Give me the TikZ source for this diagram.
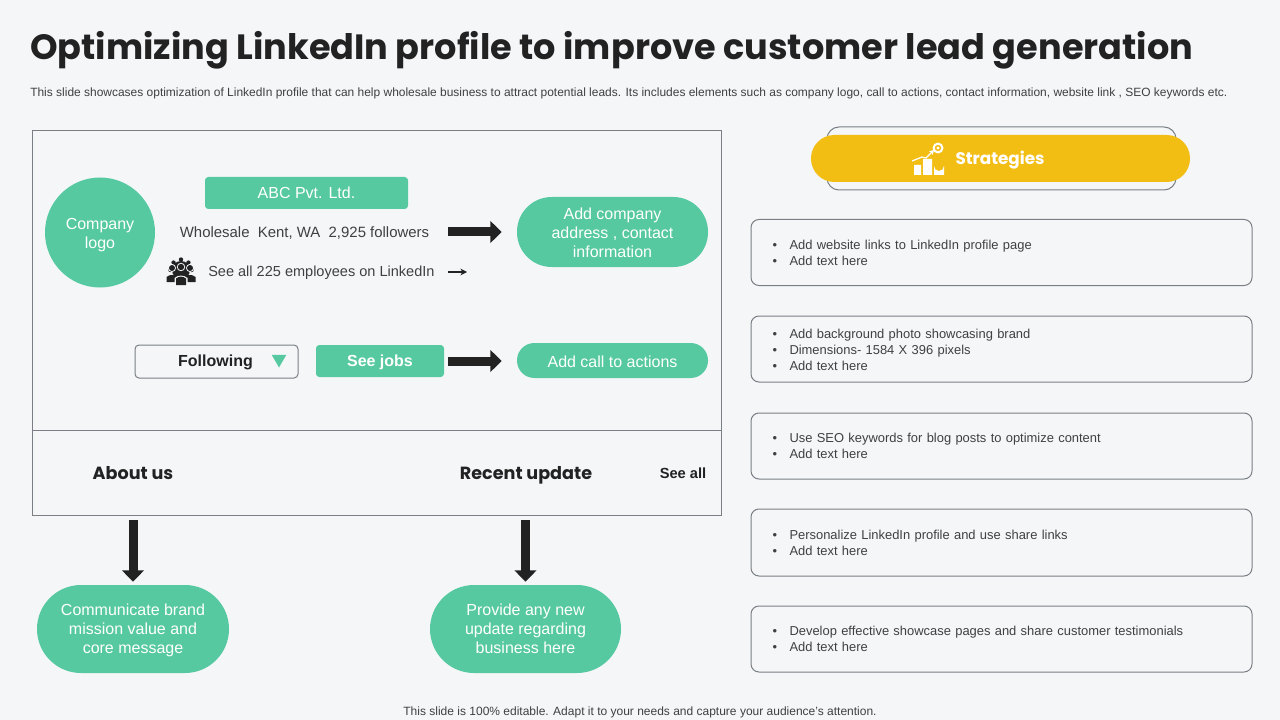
\documentclass[tikz,border=0pt]{standalone}
\usepackage{fontspec}
\setmainfont{Liberation Sans}
\newfontfamily\titlefont{Poppins}
\usetikzlibrary{arrows.meta,calc,positioning,shapes.geometric}
\definecolor{pagebg}{HTML}{F4F6F8}
\definecolor{mint}{HTML}{56C9A1}
\definecolor{sun}{HTML}{F3BE14}
\definecolor{ink}{HTML}{222222}
\definecolor{bodytext}{HTML}{404040}
\definecolor{edge}{HTML}{7A7F85}
\newcommand{\px}{0.75pt}
\newcommand{\bul}{\makebox[17\dimexpr0.75pt\relax][l]{\textbullet}}
\newcommand{\lift}[1]{\rule{0pt}{#1pt}}
\tikzstyle{panel} = [rectangle, draw=edge, line width=0.75pt, inner sep=0pt]
\tikzstyle{pill} = [rectangle, fill=mint, text=white, align=center, inner sep=0pt, font=\fontsize{12}{14.2}\selectfont]
\tikzstyle{label} = [inner sep=0pt, text=bodytext, font=\fontsize{11}{14}\selectfont]
\tikzstyle{heading} = [anchor=base, inner sep=0pt, text=ink, font=\titlefont\fontsize{13.2}{16}\selectfont\bfseries]
\tikzstyle{strategy} = [panel, rounded corners=6pt, minimum width=501*\px, minimum height=66*\px, text width=458*\px, align=left, text=bodytext, font=\fontsize{9.7}{12}\selectfont]
\tikzstyle{bigarrow} = [draw=ink, line width=9*\px, -{Triangle[length=8.5pt,width=16pt]}]
\begin{document}
\begin{tikzpicture}[x=0.75pt,y=-0.75pt]
        \fill[pagebg] (0,0) rectangle (1280,720);
        \useasboundingbox (0,0) rectangle (1280,720);
        \node[anchor=base west,inner sep=0pt,text=ink] (title) at (30,60) {\titlefont\fontsize{26.33}{30}\selectfont\bfseries Optimizing LinkedIn profile to improve customer lead generation};
        \node[anchor=west,inner sep=0pt,text=bodytext] (subtitle) at (30,93.5) {\fontsize{8.98}{11}\selectfont This slide showcases optimization of LinkedIn profile that can help wholesale business to attract potential leads. Its includes elements such as company logo, call to actions, contact information, website link , SEO keywords etc.};
        \node[panel,minimum width=689.5*\px,minimum height=299.5*\px] (profile) at (376.75,280.75) {};
        \node[panel,minimum width=689.5*\px,minimum height=85*\px] (footer) at (376.75,473) {};
        \node[pill,circle,minimum size=110*\px] (logo) at (100,232.5) {\lift{11.7}Company\\logo};
        \node[pill,rounded corners=2.5pt,minimum width=203*\px,minimum height=32*\px] (company) at (306.5,193) {ABC Pvt. Ltd.};
        \node[label,font=\fontsize{11.2}{14}\selectfont] (followers) at (304.5,233) {Wholesale\ \ Kent, WA\ \ 2,925 followers};
        \node[label,anchor=west,font=\fontsize{10.9}{14}\selectfont] (employees) at (208,273) {See all 225 employees on LinkedIn};
        \coordinate (employees-end) at (467,272);
        \coordinate (followers-end) at (429,232);
        \node[pill,rounded corners=26pt,minimum width=191*\px,minimum height=70*\px] (address) at (612.5,232) {\lift{9.4}Add company\\address , contact\\information};
        \node[panel,rounded corners=3pt,minimum width=163*\px,minimum height=33*\px] (following) at (216.5,361.5) {};
        \node[inner sep=0pt,text=ink,font=\fontsize{12}{14}\selectfont\bfseries] (following-text) at (215.5,362) {Following};
        \node[regular polygon,regular polygon sides=3,shape border rotate=180,fill=mint,inner sep=0pt,minimum size=17*\px] (following-mark) at (279,359) {};
        \node[pill,rounded corners=2.5pt,minimum width=128*\px,minimum height=32*\px,font=\fontsize{12}{14}\selectfont\bfseries] (jobs) at (380,361) {\lift{10.2}See jobs};
        \node[pill,rounded corners=13pt,minimum width=191*\px,minimum height=35*\px] (actions) at (612.5,360.5) {\lift{10.2}Add call to actions};
        \node[heading] (about) at (133,479) {About us};
        \node[heading] (recent) at (526,479) {Recent update};
        \node[inner sep=0pt,text=ink,font=\fontsize{11}{13}\selectfont\bfseries] (seeall) at (683,473) {See all};
        \coordinate (about-start) at (133,520);
        \coordinate (recent-start) at (525.5,520);
        \node[pill,rounded corners=33pt,minimum width=192*\px,minimum height=88*\px] (mission) at (133,629) {\lift{10.2}Communicate brand\\mission value  and\\core message};
        \node[pill,rounded corners=33pt,minimum width=191*\px,minimum height=88*\px] (update) at (525.5,629) {Provide any new\\update regarding\\business here};
        \draw[bigarrow,shorten <=19*\px,shorten >=15*\px] (followers-end) -- (followers-end -| address.west);
        \draw[bigarrow,shorten <=4*\px,shorten >=15*\px] (jobs.east) -- (actions.west |- jobs.east);
        \draw[-{Stealth[length=5pt,width=5pt]},draw=ink,line width=0.8pt,shorten <=13*\px] (employees.east |- employees-end) -- (employees-end);
        \draw[bigarrow,shorten >=3*\px] (about-start) -- (mission.north);
        \draw[bigarrow,shorten >=3*\px] (recent-start) -- (update.north);
        % people icon
        \fill[ink] (181,270) circle (9);
        \foreach \a in {0,45,...,315} \fill[ink] ($(181,270)+(\a:10.5)$) circle (2.2);
        \foreach \x/\y in {172/268,190/268} {
            \fill[pagebg] (\x,\y) circle (4);
            \fill[ink] (\x,\y) circle (3);
            \fill[ink] (\x-5.5,282) -- (\x-5.5,277) to[bend left=40] (\x+5.5,277) -- (\x+5.5,282) -- cycle;
        }
        \fill[pagebg] (181,267) circle (4.2);
        \fill[ink] (181,267) circle (3.2);
        \fill[pagebg] (174.5,286) -- (174.5,278) to[bend left=40] (187.5,278) -- (187.5,286) -- cycle;
        \fill[ink] (176,285) -- (176,278.5) to[bend left=40] (186,278.5) -- (186,285) -- cycle;
        % strategies header
        \node[panel,rounded corners=9pt,minimum width=349*\px,minimum height=63*\px,fill=pagebg] (header-back) at (1001.5,158.5) {};
        \node[rectangle,fill=sun,rounded corners=17.5pt,minimum width=379*\px,minimum height=47*\px,inner sep=0pt] (header) at (1000.5,158.5) {};
        \node[anchor=base,inner sep=0pt,text=white,font=\titlefont\fontsize{12.6}{16}\selectfont\bfseries] (header-text) at (1000,164.5) {Strategies};
        % chart icon
        \fill[white] (914,165) rectangle (921,175) (923,159) rectangle (932,175);
        \fill[white] (934,175) -- (934,166) arc[start angle=180,end angle=0,radius=5] -- (944,175) -- cycle;
        \draw[white,line width=0.9pt,-{Stealth[length=3.5pt,width=4pt]}] (912,161) -- (922,157) -- (926,158) -- (934,150);
        \fill[white] (938,148) circle (5.5);
        \fill[sun] (938,148) circle (3.2);
        \fill[white] (938,148) circle (1.7);
        \node[strategy] (tip-links) at (1001.5,252.5) {\bul Add website links to LinkedIn\ profile\ page\\ \bul Add text here};
        \node[strategy] (tip-photo) at (1001.5,349) {\lift{8.2}\bul Add background\ photo showcasing brand\\ \bul Dimensions-\ 1584 X 396 pixels\\ \bul Add text here};
        \node[strategy] (tip-seo) at (1001.5,446) {\bul Use SEO keywords for blog posts to optimize content\\ \bul Add text here};
        \node[strategy,minimum height=67*\px] (tip-share) at (1001.5,542.5) {\bul Personalize LinkedIn\ profile and use share links\\ \bul Add text here};
        \node[strategy] (tip-pages) at (1001.5,639) {\bul Develop\ effective\ showcase pages and share customer testimonials\\ \bul Add text here};
        \node[inner sep=0pt,text=bodytext] (note) at (640,712) {\fontsize{9}{11}\selectfont This slide is 100\% editable. Adapt it to your needs and capture your audience's attention.};
    \end{tikzpicture}
\end{document}
